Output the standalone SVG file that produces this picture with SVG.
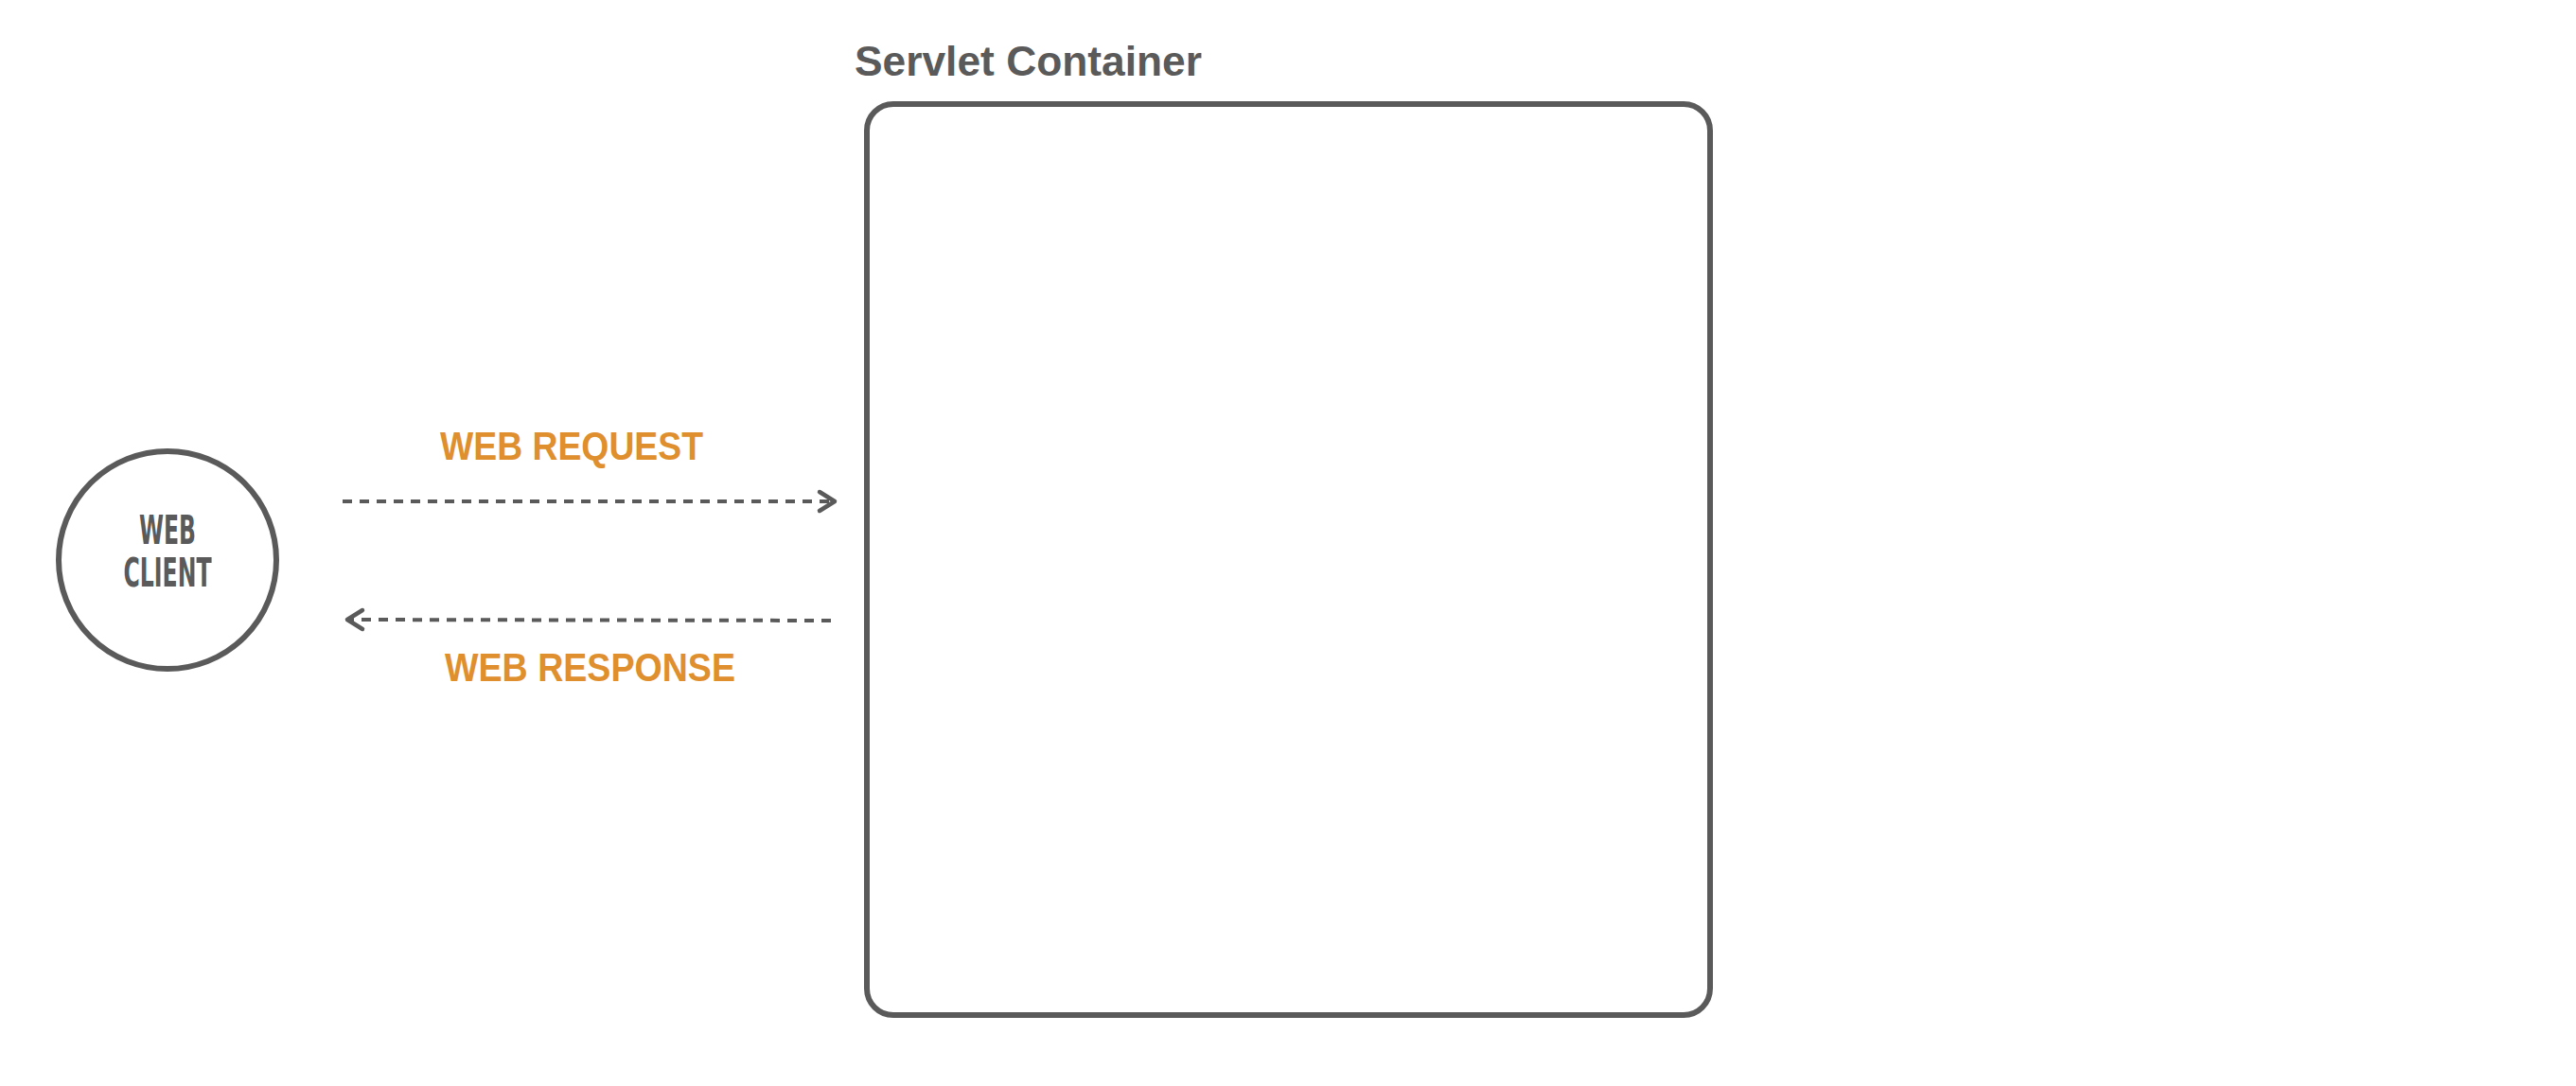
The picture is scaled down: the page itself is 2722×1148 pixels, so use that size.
<svg xmlns="http://www.w3.org/2000/svg" width="2722" height="1148" viewBox="0 0 2722 1148">
<style>
.shape{fill:#ffffff;stroke:#5a5a5a;stroke-width:6}
.title{font-family:"Liberation Sans",Arial,sans-serif;font-weight:bold;font-size:44px;fill:#5a5a5a}
.node{font-family:"DejaVu Sans Condensed","DejaVu Sans",sans-serif;font-weight:bold;font-size:43px;fill:#5a5a5a;text-anchor:middle}
.label{font-family:"Liberation Sans",Arial,sans-serif;font-weight:bold;font-size:43px;fill:#e08f2e}
.conn{fill:none;stroke:#5a5a5a;stroke-width:4;stroke-dasharray:10 8}
.head{fill:none;stroke:#5a5a5a;stroke-width:4.5;stroke-linecap:round;stroke-linejoin:round}
</style>
<rect width="2722" height="1148" fill="#ffffff"/>
<g id="servlet-container">
<rect class="shape" x="916" y="110" width="891" height="963" rx="28"/>
<text class="title" x="903" y="80" textLength="367" lengthAdjust="spacingAndGlyphs">Servlet Container</text>
</g>
<g id="web-client">
<circle class="shape" cx="177" cy="592" r="115"/>
<text class="node" x="177" y="575" textLength="60" lengthAdjust="spacingAndGlyphs">WEB</text>
<text class="node" x="177" y="620" textLength="93" lengthAdjust="spacingAndGlyphs">CLIENT</text>
</g>
<g id="connectors">
<path class="conn" d="M362 530 L880 530"/>
<path class="head" d="M866 520 L882 530 L866 540"/>
<text class="label" x="465" y="486" textLength="278" lengthAdjust="spacingAndGlyphs">WEB REQUEST</text>
<path class="conn" d="M878 656 L370 655"/>
<path class="head" d="M383 645 L367 655 L383 665"/>
<text class="label" x="470" y="720" textLength="307" lengthAdjust="spacingAndGlyphs">WEB RESPONSE</text>
</g>
</svg>
